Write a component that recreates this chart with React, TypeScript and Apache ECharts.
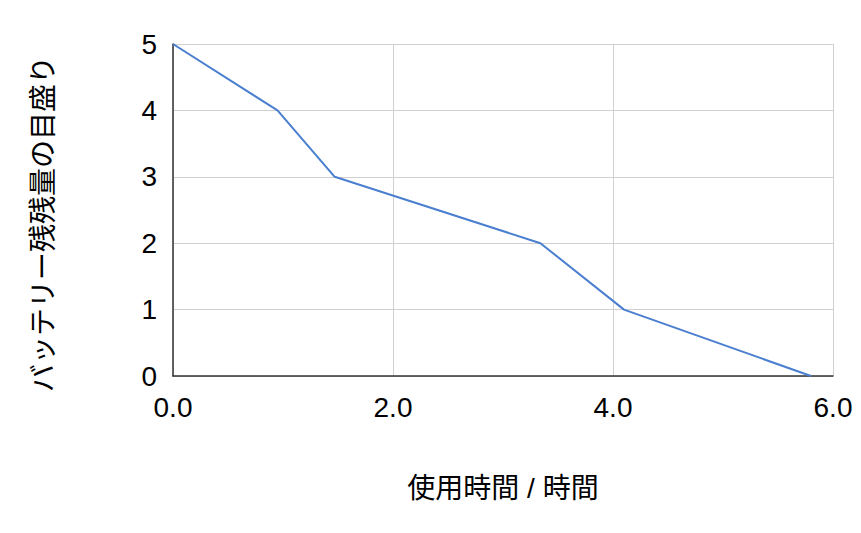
import React, { useEffect, useRef } from "react";
import * as echarts from "echarts";

const usageHours = [0, 0.95, 1.47, 3.34, 4.1, 5.8];
const batteryLevel = [5, 4, 3, 2, 1, 0];
const xAxisTitle = "使用時間 / 時間";
const yAxisTitle = "バッテリー残残量の目盛り";

const FONT = "'Liberation Sans', Arial, 'Noto Sans CJK JP', sans-serif";

export default function App() {
  const ref = useRef<HTMLDivElement>(null);
  useEffect(() => {
    if (!ref.current) return;
    const chart = echarts.init(ref.current, null, { renderer: "svg" });
    chart.setOption({
      animation: false,
      backgroundColor: "#ffffff",
      grid: { left: 173, right: 28, top: 44, bottom: 157, containLabel: false },
      xAxis: {
        type: "value",
        min: 0,
        max: 6,
        interval: 2,
        name: xAxisTitle,
        nameLocation: "middle",
        nameGap: 98,
        nameTextStyle: { fontSize: 28, color: "#000", fontFamily: FONT },
        axisLine: { show: true, onZero: false, lineStyle: { color: "#333", width: 1.5 } },
        axisTick: { show: false },
        axisLabel: {
          fontSize: 28,
          color: "#000",
          fontFamily: FONT,
          margin: 17,
          formatter: (v: number) => v.toFixed(1),
        },
        splitLine: { show: true, lineStyle: { color: "#d0d0d0", width: 1 } },
      },
      yAxis: {
        type: "value",
        min: 0,
        max: 5,
        interval: 1,
        name: yAxisTitle,
        nameLocation: "middle",
        nameRotate: 90,
        nameGap: 116,
        nameTextStyle: { fontSize: 28, color: "#000", fontFamily: FONT, padding: [0, 28, 0, 0] },
        axisLine: { show: true, onZero: false, lineStyle: { color: "#333", width: 1.5 } },
        axisTick: { show: false },
        axisLabel: { fontSize: 28, color: "#000", fontFamily: FONT, margin: 16 },
        splitLine: { show: true, lineStyle: { color: "#d0d0d0", width: 1 } },
      },
      series: [
        {
          type: "line",
          data: usageHours.map((x, i) => [x, batteryLevel[i]]),
          showSymbol: false,
          symbol: "none",
          lineStyle: { color: "#4a7fd0", width: 2 },
          itemStyle: { color: "#4a7fd0" },
        },
      ],
    });
    return () => chart.dispose();
  }, []);
  return (
    <div
      ref={ref}
      style={{ position: "fixed", left: 0, top: 0, width: 861, height: 533, background: "#fff" }}
    />
  );
}
